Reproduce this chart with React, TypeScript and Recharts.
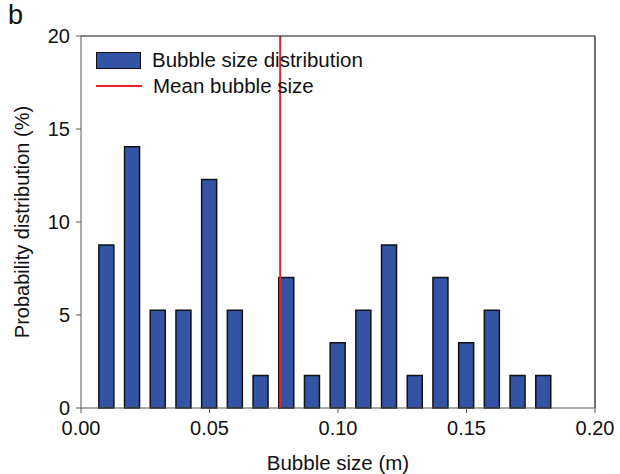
import {
  ComposedChart,
  Bar,
  XAxis,
  YAxis,
  ReferenceLine,
} from "recharts";

// bin centres (m) and share of bubbles in each bin (%)
const binCentres = [
  0.01, 0.02, 0.03, 0.04, 0.05, 0.06, 0.07, 0.08, 0.09, 0.1, 0.11, 0.12, 0.13,
  0.14, 0.15, 0.16, 0.17, 0.18,
];
const probability = [
  8.77, 14.04, 5.26, 5.26, 12.28, 5.26, 1.75, 7.02, 1.75, 3.51, 5.26, 8.77,
  1.75, 7.02, 3.51, 5.26, 1.75, 1.75,
];
const xTicks = [0, 0.05, 0.1, 0.15, 0.2];
const yTicks = [0, 5, 10, 15, 20];
const meanSize = 0.0775;

const FONT = "'Liberation Sans', Arial, sans-serif";
const BAR_FILL = "#3353a5";
const RED = "#ee2027";

const data = binCentres.map((x, i) => ({ size: x, prob: probability[i] }));

export default function App() {
  const tickStyle = { fontSize: 20, fill: "#111", fontFamily: FONT };

  return (
    <div
      style={{
        position: "absolute",
        left: 0,
        top: 0,
        width: 620,
        height: 474,
        background: "#fff",
        fontFamily: FONT,
      }}
    >
      <ComposedChart
        width={620}
        height={474}
        data={data}
        margin={{ top: 36, right: 25, bottom: 0, left: 0 }}
      >
        <XAxis
          dataKey="size"
          type="number"
          domain={[0, 0.2]}
          ticks={xTicks}
          tickFormatter={(v: number) => v.toFixed(2)}
          height={66}
          tickSize={5}
          tickMargin={8}
          stroke="#555"
          tick={tickStyle}
          label={(props: any) => {
            const vb = props.viewBox;
            return (
              <text
                x={vb.x + vb.width / 2}
                y={462}
                textAnchor="middle"
                dominantBaseline="central"
                fontSize={20.5}
                fontFamily={FONT}
                fill="#111"
              >
                Bubble size (m)
              </text>
            );
          }}
        />
        <YAxis
          domain={[0, 20]}
          ticks={yTicks}
          width={81}
          tickSize={5}
          tickMargin={6}
          stroke="#555"
          tick={tickStyle}
          label={(props: any) => {
            const vb = props.viewBox;
            const cy = vb.y + vb.height / 2;
            return (
              <text
                x={22}
                y={cy}
                transform={`rotate(-90, 22, ${cy})`}
                textAnchor="middle"
                dominantBaseline="central"
                fontSize={20}
                fontFamily={FONT}
                fill="#111"
              >
                Probability distribution (%)
              </text>
            );
          }}
        />
        <Bar
          dataKey="prob"
          barSize={15}
          fill={BAR_FILL}
          stroke="#111"
          strokeWidth={1.5}
          isAnimationActive={false}
        />
        <ReferenceLine x={meanSize} stroke={RED} strokeWidth={2} />
        {/* frame: top and right edges */}
        <ReferenceLine y={20} stroke="#111" strokeWidth={1.2} />
        <ReferenceLine x={0.2} stroke="#111" strokeWidth={1.2} />
      </ComposedChart>

      <div
        style={{
          position: "absolute",
          left: 8,
          top: 0,
          fontSize: 27,
          color: "#111",
        }}
      >
        b
      </div>

      <div
        style={{
          position: "absolute",
          left: 96,
          top: 47,
          fontSize: 20.5,
          color: "#111",
          lineHeight: "26px",
        }}
      >
        <div style={{ display: "flex", alignItems: "center", gap: 11 }}>
          <div
            style={{
              width: 43,
              height: 15,
              background: BAR_FILL,
              border: "1.5px solid #111",
            }}
          />
          <span>Bubble size distribution</span>
        </div>
        <div style={{ display: "flex", alignItems: "center", gap: 11 }}>
          <div style={{ width: 46, height: 2, background: RED }} />
          <span>Mean bubble size</span>
        </div>
      </div>
    </div>
  );
}
